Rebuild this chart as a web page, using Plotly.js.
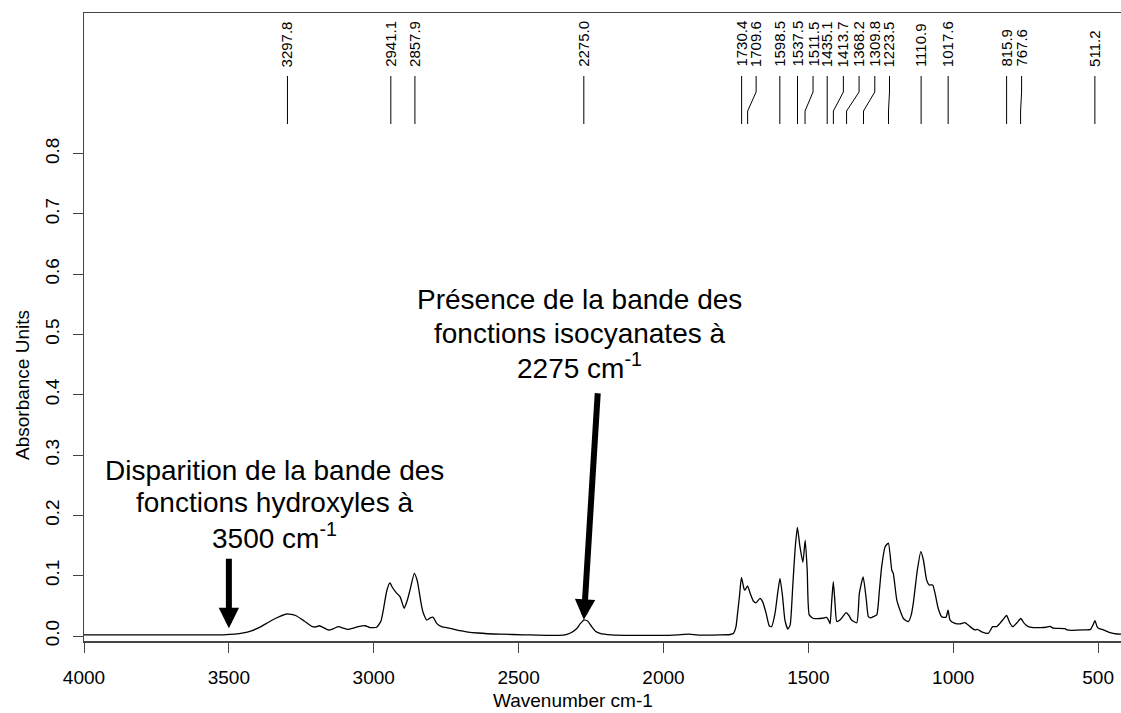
<!DOCTYPE html>
<html>
<head>
<meta charset="utf-8">
<script src="https://cdn.plot.ly/plotly-3.0.1.min.js"></script>
<style>
html,body{margin:0;padding:0;overflow:hidden;background:#fff;}
#chart{width:1130px;height:713px;}
</style>
</head>
<body>
<div id="chart"></div>
<script>
// Spectrum (wavenumber cm-1, absorbance)
const wavenumber = [4000,3900,3800,3700,3600,3520,3480,3450,3425,3400,3370,3340,3300,3270,3240,3214,3200,3188,3170,3157,3140,3122,3105,3091,3070,3053,3030,3013,2990,2975,2967,2955,2944,2935,2921,2909,2895,2885,2875,2860,2850,2846,2835,2829,2817,2805,2795,2783,2766,2737,2702,2680,2640,2564,2480,2392,2340,2323,2300,2288,2275,2262,2248,2235,2219,2180,2104,2000,1950,1910,1880,1805,1770,1759,1750,1745,1738,1731,1722,1719,1710,1701,1690,1681,1667,1658,1646,1635,1627,1615,1606,1598,1589,1581,1571,1563,1554,1546,1538,1529,1519,1511,1504,1497,1483,1460,1445,1437,1430,1425,1420,1414,1408,1402,1391,1380,1370,1360,1351,1333,1324,1311,1300,1293,1285,1276,1264,1255,1247,1235,1224,1212,1207,1195,1184,1172,1155,1145,1138,1124,1112,1103,1092,1083,1071,1063,1052,1040,1025,1018,1011,994,977,960,942,925,917,902,879,864,850,839,827,816,805,795,780,767,755,741,724,700,680,666,655,643,614,608,551,526,518,511,504,499,482,459,436,421,400,390];
const absorbance = [0.002,0.002,0.002,0.002,0.002,0.002,0.003,0.005,0.008,0.013,0.021,0.029,0.0365,0.034,0.025,0.016,0.015,0.017,0.013,0.010,0.012,0.0155,0.013,0.011,0.013,0.0155,0.017,0.014,0.0145,0.025,0.043,0.075,0.088,0.080,0.071,0.065,0.046,0.058,0.076,0.104,0.092,0.082,0.050,0.038,0.0265,0.030,0.031,0.021,0.0155,0.0127,0.0088,0.007,0.005,0.003,0.002,0.001,0.002,0.0045,0.012,0.020,0.0265,0.025,0.0155,0.008,0.0045,0.002,0.001,0.001,0.002,0.003,0.0015,0.0017,0.0025,0.004,0.015,0.035,0.065,0.097,0.078,0.076,0.083,0.071,0.058,0.055,0.0625,0.057,0.038,0.017,0.0155,0.038,0.071,0.0955,0.065,0.0265,0.0116,0.018,0.082,0.143,0.180,0.148,0.122,0.159,0.109,0.035,0.029,0.029,0.030,0.031,0.026,0.020,0.054,0.090,0.054,0.024,0.0265,0.033,0.0387,0.034,0.0265,0.022,0.071,0.098,0.060,0.032,0.030,0.032,0.035,0.075,0.115,0.148,0.154,0.109,0.104,0.060,0.043,0.029,0.0238,0.035,0.054,0.109,0.140,0.126,0.093,0.0846,0.0846,0.071,0.046,0.032,0.031,0.043,0.0265,0.021,0.020,0.022,0.0155,0.010,0.011,0.007,0.0045,0.0155,0.0155,0.021,0.028,0.034,0.022,0.0155,0.022,0.029,0.021,0.0155,0.014,0.014,0.0145,0.016,0.013,0.0127,0.0122,0.010,0.010,0.011,0.018,0.0254,0.016,0.0127,0.010,0.0055,0.0033,0.003,0.003,0.003];

// Peak picking labels
const peakLabels = ["3297.8","2941.1","2857.9","2275.0","1730.4","1709.6","1598.5","1537.5","1511.5","1435.1","1413.7","1368.2","1309.8","1223.5","1110.9","1017.6","815.9","767.6","511.2"];
const peakShiftPx = [0,0,0,0,0,8.5,0,0,8,0,10,12.5,11.3,1,0,0,0,1,0];

const xTicks = [4000,3500,3000,2500,2000,1500,1000,500];
const yTicks = [0,0.1,0.2,0.3,0.4,0.5,0.6,0.7,0.8];

const FONT = "Liberation Sans, Arial, Helvetica, sans-serif";
const LEFT = 84, PLOTW = 1046;
const TOP = 13, BOTTOM = 641, H = BOTTOM - TOP;
const py = p => (BOTTOM - p) / H;      // pixel row -> paper fraction
const px = p => (p - LEFT) / PLOTW;    // pixel column -> paper fraction

const yTextBottom = py(69), yTop = py(76), yB1 = py(92), yB2 = py(111), yBot = py(124);

const shapes = [];
const annotations = [];
peakLabels.forEach((lab, i) => {
  const wn = parseFloat(lab);
  const s = peakShiftPx[i];
  shapes.push({
    type: 'path', xref: 'x', yref: 'paper', xsizemode: 'pixel', xanchor: wn,
    path: `M ${s},${yTop} L ${s},${yB1} L 0,${yB2} L 0,${yBot}`,
    line: {color: '#000', width: 1}
  });
  annotations.push({
    text: lab, xref: 'x', yref: 'paper', x: wn, xshift: s, y: yTextBottom,
    xanchor: 'center', yanchor: 'bottom', textangle: -90, showarrow: false,
    font: {family: FONT, size: 15, color: '#000'}
  });
});

// Text blocks (one annotation per line): text, centre x px, centre y px, font size
const textLines = [
  ["Disparition de la bande des", 274, 470, 28],
  ["fonctions hydroxyles à", 274, 503, 28],
  ["3500 cm<sup>-1</sup>", 274, 536, 28],
  ["Présence de la bande des", 579, 300, 28],
  ["fonctions isocyanates à", 579, 333, 28],
  ["2275 cm<sup>-1</sup>", 579, 366, 28]
];
textLines.forEach(([t, xp, yp, fs]) => {
  annotations.push({
    text: t, xref: 'paper', yref: 'paper', x: px(xp), y: py(yp),
    xanchor: 'center', yanchor: 'middle', showarrow: false,
    font: {family: FONT, size: fs, color: '#000'}
  });
});

// Axis titles
annotations.push({
  text: 'Wavenumber cm-1', xref: 'paper', yref: 'paper', x: px(573), y: py(700),
  xanchor: 'center', yanchor: 'middle', showarrow: false,
  font: {family: FONT, size: 19, color: '#000'}
});
annotations.push({
  text: 'Absorbance Units', xref: 'paper', yref: 'paper', x: px(22), y: py(385),
  xanchor: 'center', yanchor: 'middle', textangle: -90, showarrow: false,
  font: {family: FONT, size: 19, color: '#000'}
});

// Arrows
annotations.push({
  x: 3500, y: 0.013, xref: 'x', yref: 'y', text: '', showarrow: true,
  ax: 0, ay: -71, arrowhead: 2, arrowsize: 0.68, arrowwidth: 6, arrowcolor: '#000', standoff: 0
});
annotations.push({
  x: 2275, y: 0.027, xref: 'x', yref: 'y', text: '', showarrow: true,
  ax: 14, ay: -228, arrowhead: 2, arrowsize: 0.68, arrowwidth: 6, arrowcolor: '#000', standoff: 0
});

const trace = {
  x: wavenumber, y: absorbance, type: 'scatter', mode: 'lines',
  line: {color: '#000', width: 1.3, shape: 'spline', smoothing: 0.5}, hoverinfo: 'skip'
};

const layout = {
  width: 1130, height: 713,
  margin: {l: LEFT, r: 0, t: TOP, b: 713 - BOTTOM, pad: 0},
  paper_bgcolor: '#fff', plot_bgcolor: '#fff',
  showlegend: false,
  font: {family: FONT, color: '#000'},
  xaxis: {
    range: [4000, 390], autorange: false,
    tickvals: xTicks, ticktext: xTicks.map(String),
    ticks: 'outside', ticklen: 10, tickwidth: 1, tickcolor: '#444',
    tickfont: {family: FONT, size: 19, color: '#000'},
    ticklabelstandoff: 9,
    showgrid: false, zeroline: false,
    showline: true, mirror: true, linecolor: '#444', linewidth: 1.5
  },
  yaxis: {
    range: [-0.0083, 1.0332], autorange: false,
    tickvals: yTicks, ticktext: yTicks.map(v => v.toFixed(1)),
    tickangle: -90,
    ticks: 'outside', ticklen: 10, tickwidth: 1, tickcolor: '#444',
    tickfont: {family: FONT, size: 19, color: '#000'},
    ticklabelstandoff: 6,
    showgrid: false, zeroline: false,
    showline: true, mirror: true, linecolor: '#444', linewidth: 1.5
  },
  shapes: shapes,
  annotations: annotations
};

Plotly.newPlot('chart', [trace], layout, {staticPlot: true, displayModeBar: false});
</script>
</body>
</html>
